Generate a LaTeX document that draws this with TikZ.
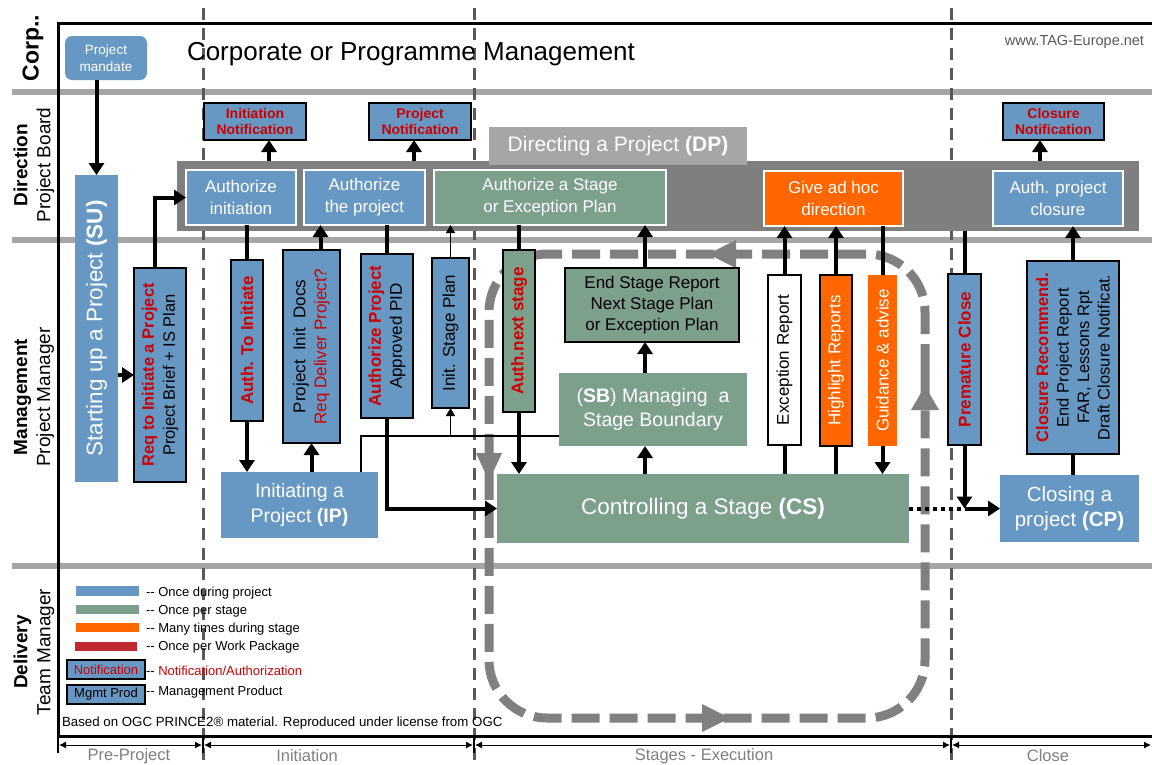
\documentclass[tikz,border=0pt]{standalone}
\usepackage{fontspec}
\setmainfont{Liberation Sans}
\usetikzlibrary{arrows.meta,fit}
\definecolor{pblue}{HTML}{6798C4}
\definecolor{pgreen}{HTML}{7CA08B}
\definecolor{porange}{HTML}{FF6600}
\definecolor{pred}{HTML}{CC0000}
\definecolor{lanegray}{HTML}{A6A6A6}
\definecolor{bargray}{HTML}{7F7F7F}
\definecolor{dpgray}{HTML}{A6A6A6}
\definecolor{phasegray}{HTML}{595959}
\definecolor{loopgray}{HTML}{808080}
\definecolor{legred}{HTML}{C0282D}
\definecolor{txtgray}{HTML}{808080}
\newcommand{\fsz}[2]{\fontsize{#1}{#2}\selectfont}
\newcommand{\bx}[4]{\node[#1, fit={(#3) (#4)}] (#2) {};}
\begin{document}
\begin{tikzpicture}[x=1pt,y=-1pt,
  every node/.style={inner sep=0pt,outer sep=0pt},
  fb/.style={fill=pblue},
  fg/.style={fill=pgreen},
  fo/.style={fill=porange},
  wb/.style={draw=white,line width=1.6pt},
  pb/.style={draw=black,line width=2pt},
  rt/.style={rotate=90,align=center},
  ct/.style={align=center},
  arr/.style={line width=4pt,-{Triangle[length=12pt,width=15pt]}},
  ln/.style={line width=4pt},
  tarr/.style={line width=1.4pt,-{Triangle[length=8pt,width=9pt]}},
  tln/.style={line width=1.4pt},
  phasearr/.style={line width=1pt,{Latex[length=7pt,width=7pt]}-{Latex[length=7pt,width=7pt]}},
]
\useasboundingbox (0,0) rectangle (1152,764);
\fill[white] (0,0) rectangle (1152,764);

% lanes
\foreach \yy in {92,240,566}{\draw[lanegray,line width=6pt] (12,\yy) -- (1152,\yy);}
% phase lines
\foreach \xx in {203,474,951}{\draw[phasegray,line width=3pt,dash pattern=on 12pt off 8pt] (\xx,8) -- (\xx,764);}
% frame
\draw[line width=3pt] (1152,23) -- (58,23) -- (58,736) -- (1152,736);

% lane labels
\node[rt,font=\fsz{23}{26}\bfseries] (corp) at (33,48) {Corp..};
\node[rt,font=\fsz{19}{23}] (dirlab) at (34,165) {\textbf{Direction}\\Project Board};
\node[rt,font=\fsz{19}{23}] (mgtlab) at (34,397) {\textbf{Management}\\Project Manager};
\node[rt,font=\fsz{19}{23}] (dellab) at (34,652) {\textbf{Delivery}\\Team Manager};

% corporate lane
\node[fill=pblue,rounded corners=7pt,fit={(65,36) (147,80)}] (mandate) {};
\node[ct,text=white,font=\fsz{13.5}{17}] (mandatet) at (mandate.center) {Project\\mandate};
\node[anchor=west,font=\fsz{26}{30}] (corptitle) at (187,54) {Corporate or Programme Management};
\node[anchor=east,font=\fsz{14.5}{17},text=phasegray] (web) at (1144,42) {www.TAG-Europe.net};

% stage loop
\draw[loopgray,line width=9pt,dash pattern=on 28pt off 10pt,rounded corners=58pt] (925,430) -- (925,254) -- (489,254) -- (489,718) -- (925,718) -- cycle;
\fill[loopgray] (708,254) -- (736,240) -- (736,268) -- cycle;
\fill[loopgray] (489,481) -- (476,453) -- (502,453) -- cycle;
\fill[loopgray] (730,718) -- (702,704) -- (702,732) -- cycle;
\fill[loopgray] (925,386) -- (911,410) -- (939,410) -- cycle;

% direction bar
\bx{fill=bargray}{DPbar}{177,161}{1139,231}
\bx{fill=dpgray}{DPlab}{489,127}{747,165}
\node[text=white,font=\fsz{21}{24}] (DPlabt) at (DPlab.center) {Directing a Project \textbf{(DP)}};

\bx{fb,wb}{AuthInit}{186,170}{296,225}
\bx{fb,wb}{AuthProj}{304,170}{425,225}
\bx{fg,wb}{AuthStage}{434,170}{666,225}
\bx{fo,wb}{AdHoc}{764,171}{903,226}
\bx{fb,wb}{AuthClose}{993,171}{1123,226}
\node[ct,text=white,font=\fsz{17}{22}] (AuthInitt) at (AuthInit.center) {Authorize\\initiation};
\node[ct,text=white,font=\fsz{17}{22}] (AuthProjt) at (AuthProj.center) {Authorize\\the project};
\node[ct,text=white,font=\fsz{17}{22}] (AuthStaget) at (AuthStage.center) {Authorize a Stage\\or Exception Plan};
\node[ct,text=white,font=\fsz{17}{22}] (AdHoct) at (AdHoc.center) {Give ad hoc\\direction};
\node[ct,text=white,font=\fsz{17}{22}] (AuthCloset) at (AuthClose.center) {Auth. project\\closure};

% notifications
\bx{fb,pb}{InitNot}{204,103}{306,140}
\bx{fb,pb}{ProjNot}{369,103}{471,140}
\bx{fb,pb}{CloseNot}{1003,103}{1104,140}
\node[ct,text=pred,font=\fsz{14}{16}\bfseries] (InitNott) at (InitNot.center) {Initiation\\Notification};
\node[ct,text=pred,font=\fsz{14}{16}\bfseries] (ProjNott) at (ProjNot.center) {Project\\Notification};
\node[ct,text=pred,font=\fsz{14}{16}\bfseries] (CloseNott) at (CloseNot.center) {Closure\\Notification};

% management lane
\bx{fb}{SU}{75,175}{118,482}
\bx{fb,pb}{Req}{134,268}{186,482}
\bx{fb,pb}{AuthToInit}{231,260}{263,421}
\bx{fb,pb}{InitDocs}{283,250}{340,443}
\bx{fb,pb}{AuthProjBox}{361,254}{413,418}
\bx{fb,pb}{InitStage}{432,258}{469,408}
\bx{fb}{IP}{221,472}{378,538}
\bx{fg,pb}{AuthNext}{503,250}{535,412}
\bx{fg,pb}{EndStage}{565,268}{739,342}
\bx{fg}{SB}{559,373}{747,446}
\bx{fg}{CS}{497,474}{909,543}
\bx{fill=white,pb}{ExcRep}{768,275}{801,445}
\bx{fo,pb}{Highlight}{820,275}{852,446}
\bx{fo}{Guidance}{868,275}{897,446}
\bx{fb,pb}{Premature}{948,274}{981,445}
\bx{fb,pb}{ClosureRec}{1027,261}{1119,454}
\bx{fb}{CP}{1000,475}{1139,542}

\node[rt,text=white,font=\fsz{22.5}{26}] (SUt) at (SU.center) {Starting up a Project \textbf{(SU)}};
\node[rt,font=\fsz{16.5}{21}] (Reqt) at (Req.center) {\textcolor{pred}{\bfseries Req to Initiate a Project}\\Project Brief + IS Plan};
\node[rt,text=pred,font=\fsz{17}{21}\bfseries] (AuthToInitt) at (AuthToInit.center) {Auth. To Initiate};
\node[rt,font=\fsz{17}{21}] (InitDocst) at (InitDocs.center) {Project\ \ Init\ \ Docs\\\textcolor{pred}{Req Deliver Project?}};
\node[rt,font=\fsz{17}{21}] (AuthProjBoxt) at (AuthProjBox.center) {\textcolor{pred}{\bfseries Authorize Project}\\Approved PID};
\node[rt,font=\fsz{17}{21}] (InitStaget) at (InitStage.center) {Init. Stage Plan};
\node[ct,text=white,font=\fsz{19.5}{25}] (IPt) at (IP.center) {Initiating a\\Project \textbf{(IP)}};
\node[rt,text=pred,font=\fsz{17}{21}\bfseries] (AuthNextt) at (AuthNext.center) {Auth.next stage};
\node[ct,font=\fsz{17}{21}] (EndStaget) at (EndStage.center) {End Stage Report\\Next Stage Plan\\or Exception Plan};
\node[ct,text=white,font=\fsz{19.5}{24}] (SBt) at (SB.center) {(\textbf{SB}) Managing\ \ a\\Stage Boundary};
\node[text=white,font=\fsz{22.5}{26}] (CSt) at (CS.center) {Controlling a Stage \textbf{(CS)}};
\node[rt,font=\fsz{17}{21}] (ExcRept) at (ExcRep.center) {Exception Report};
\node[rt,text=white,font=\fsz{17}{21}] (Highlightt) at (Highlight.center) {Highlight Reports};
\node[rt,text=white,font=\fsz{17}{21}] (Guidancet) at (Guidance.center) {Guidance \& advise};
\node[rt,text=pred,font=\fsz{17}{21}\bfseries] (Prematuret) at (Premature.center) {Premature Close};
\node[rt,font=\fsz{16.5}{20.5}] (ClosureRect) at (ClosureRec.center) {\textcolor{pred}{\bfseries Closure Recommend.}\\End Project Report\\FAR, Lessons Rpt\\Draft Closure Notificat.};
\node[ct,text=white,font=\fsz{20.5}{25}] (CPt) at (CP.center) {Closing a\\project \textbf{(CP)}};

% connectors
\draw[arr] (mandate.south -| SU.north) -- (SU.north);
\draw[arr] (SU.east |- Req.west) -- (Req.west);
\draw[arr] ([xshift=-5pt]Req.north) |- (AuthInit.west);
\draw[arr] ([xshift=28pt,yshift=9pt]AuthInit.north) -- ([xshift=14pt]InitNot.south);
\draw[arr] ([xshift=49.5pt,yshift=9pt]AuthProj.north) -- ([xshift=-6pt]ProjNot.south);
\draw[arr] ([xshift=-18pt,yshift=10pt]AuthClose.north) -- ([xshift=-13.5pt]CloseNot.south);
\draw[ln] (AuthToInit.north) -- (AuthToInit.north |- AuthInit.south);
\draw[arr] (AuthToInit.south) -- (AuthToInit.south |- IP.north);
\draw[arr] (InitDocs.south |- IP.north) -- (InitDocs.south);
\draw[arr] ([xshift=9pt]InitDocs.north) -- ([xshift=9pt]InitDocs.north |- AuthProj.south);
\draw[ln] (AuthProjBox.north) -- (AuthProjBox.north |- AuthProj.south);
\draw[arr] (AuthProjBox.south) |- (CS.west);
\draw[tarr] (InitStage.north) -- (InitStage.north |- AuthStage.south);
\draw[tln] ([xshift=61.5pt]IP.north) |- ([yshift=-26.5pt]SB.west);
\draw[tarr] ([yshift=-26.5pt]SB.west -| InitStage.south) -- (InitStage.south);
\draw[ln] (AuthNext.north) -- (AuthNext.north |- AuthStage.south);
\draw[arr] (AuthNext.south) -- (AuthNext.south |- CS.north);
\draw[arr] ([xshift=-7pt]EndStage.north) -- ([xshift=-7pt]EndStage.north |- AuthStage.south);
\draw[arr] ([xshift=-8pt]SB.north) -- ([xshift=-8pt]SB.north |- EndStage.south);
\draw[arr] ([xshift=-8pt]SB.south |- CS.north) -- ([xshift=-8pt]SB.south);
\draw[ln] (ExcRep.south |- CS.north) -- (ExcRep.south);
\draw[arr] (ExcRep.north) -- (ExcRep.north |- AdHoc.south);
\draw[ln] (Highlight.south |- CS.north) -- (Highlight.south);
\draw[arr] (Highlight.north) -- (Highlight.north |- AdHoc.south);
\draw[ln] (Guidance.north |- AdHoc.south) -- (Guidance.north);
\draw[arr] (Guidance.south) -- (Guidance.south |- CS.north);
\draw[ln] (Premature.north) -- (Premature.north |- DPbar.south);
\draw[arr] (Premature.south) -- (Premature.south |- CS.east);
\draw[line width=4pt,dash pattern=on 4pt off 4pt] (CS.east) -- (Premature.south |- CS.east);
\draw[arr] (Premature.south |- CS.east) -- (CP.west);
\draw[ln] (ClosureRec.south |- CP.north) -- (ClosureRec.south);
\draw[arr] (ClosureRec.north) -- (ClosureRec.north |- AuthClose.south);

% legend
\bx{fb}{leg1}{76,586}{139,596}
\bx{fg}{leg2}{76,605}{139,614}
\bx{fo}{leg3}{76,623}{139,632}
\bx{fill=legred}{leg4}{75,642}{137,651}
\bx{fb,pb}{leg5}{67,660}{145,679}
\bx{fb,pb}{leg6}{67,685}{145,704}
\node[text=pred,font=\fsz{13}{15}] (leg5b) at (leg5.center) {Notification};
\node[font=\fsz{13}{15}] (leg6b) at (leg6.center) {Mgmt Prod};
\node[anchor=west,font=\fsz{13}{15}] (leg1t) at (146,593) {-\kern0pt- Once during project};
\node[anchor=west,font=\fsz{13}{15}] (leg2t) at (146,611) {-\kern0pt- Once per stage};
\node[anchor=west,font=\fsz{13}{15}] (leg3t) at (146,629) {-\kern0pt- Many times during stage};
\node[anchor=west,font=\fsz{13}{15}] (leg4t) at (146,647) {-\kern0pt- Once per Work Package};
\node[anchor=west,font=\fsz{13}{15}] (leg5t) at (146,671) {-\kern0pt- \textcolor{pred}{Notification/Authorization}};
\node[anchor=west,font=\fsz{13}{15}] (leg6t) at (146,692) {-\kern0pt- Management Product};
\node[anchor=west,font=\fsz{13.3}{15}] (credit) at (62,723) {Based on OGC PRINCE2® material. Reproduced under license from OGC};

% phase bar
\foreach \xx in {58,203,474,951}{\draw[line width=1.5pt] (\xx,737) -- (\xx,753);}
\coordinate (p0) at (58,745);
\coordinate (p1) at (203,745);
\coordinate (p2) at (474,745);
\coordinate (p3) at (951,745);
\coordinate (p4) at (1152,745);
\draw[phasearr] ([xshift=1pt]p0) -- ([xshift=-1pt]p1);
\draw[phasearr] ([xshift=1pt]p1) -- ([xshift=-1pt]p2);
\draw[phasearr] ([xshift=1pt]p2) -- ([xshift=-1pt]p3);
\draw[phasearr] ([xshift=1pt]p3) -- ([xshift=-1pt]p4);
\node[font=\fsz{16.5}{18},text=txtgray] (ph1) at (129,756) {Pre-Project};
\node[font=\fsz{16.5}{18},text=txtgray] (ph2) at (307,756) {Initiation};
\node[font=\fsz{16.5}{18},text=txtgray] (ph3) at (704,756) {Stages - Execution};
\node[font=\fsz{16.5}{18},text=txtgray] (ph4) at (1048,756) {Close};
\end{tikzpicture}
\end{document}
